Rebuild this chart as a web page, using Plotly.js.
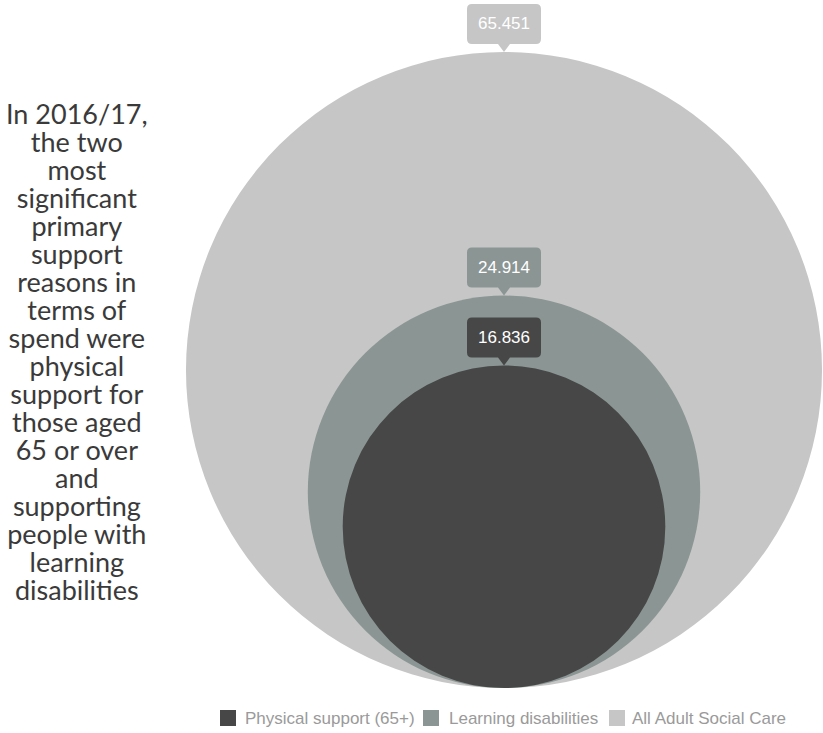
<!DOCTYPE html>
<html>
<head>
<meta charset="utf-8">
<script src="https://cdn.plot.ly/plotly-3.0.1.min.js"></script>
<style>html,body{margin:0;padding:0;background:#fff;}#chart{width:823px;height:733px;}</style>
</head>
<body>
<div id="chart"></div>
<script>
// ---- data ----
const categories = ["All Adult Social Care", "Learning disabilities", "Physical support (65+)"];
const values = [65.451, 24.914, 16.836];
const valueLabels = ["65.451", "24.914", "16.836"];
const colors = ["#c6c6c6", "#8a9594", "#474747"];
const legendOrder = ["Physical support (65+)", "Learning disabilities", "All Adult Social Care"];
const legendColors = ["#474747", "#8a9594", "#c6c6c6"];
const sideText = ["In 2016/17,", "the two", "most", "significant", "primary", "support",
  "reasons in", "terms of", "spend were", "physical", "support for", "those aged",
  "65 or over", "and", "supporting", "people with", "learning", "disabilities"];

// ---- layout constants ----
const W = 823, H = 733;
const S = 39.31;          // pixels per sqrt-unit
const CX = 504;           // pixel x of circle centres
const BASE = 688;         // pixel y of common bottom
const xRange = [(0 - CX) / S, (W - CX) / S];
const yRange = [-(H - BASE) / S, BASE / S];

const shapes = [];
const annotations = [];

const boxPath = "M -32,8 L -6,8 L 0,0 L 6,8 L 32,8 Q 37,8 37,13 L 37,43 Q 37,48 32,48 " +
                "L -32,48 Q -37,48 -37,43 L -37,13 Q -37,8 -32,8 Z";

values.forEach((v, i) => {
  const r = Math.sqrt(v);
  shapes.push({type: "circle", xref: "x", yref: "y", x0: -r, x1: r, y0: 0, y1: 2 * r,
    fillcolor: colors[i], line: {width: 0}, layer: "above"});
  shapes.push({type: "path", xref: "x", yref: "y", xsizemode: "pixel", ysizemode: "pixel",
    xanchor: 0, yanchor: 2 * r, path: boxPath, fillcolor: colors[i], line: {width: 0}, layer: "above"});
  annotations.push({xref: "x", yref: "y", x: 0, y: 2 * r, yshift: 28, showarrow: false,
    text: valueLabels[i], xanchor: "center", yanchor: "middle",
    font: {family: "Liberation Sans, Arial, sans-serif", size: 17, color: "#ffffff"}});
});

// side text: one block, 28px line pitch, 27px glyphs
const PITCH = 28;
annotations.push({xref: "paper", yref: "paper", x: 77 / W, y: 1 - 351 / H, showarrow: false,
  text: sideText.map(t => '<span style="font-size:27px">' + t + '</span>').join("<br>"),
  xanchor: "center", yanchor: "middle", align: "center",
  font: {family: "Lato, sans-serif", size: PITCH / 1.3, color: "#3a3a3a"}});

// legend
const legSquares = [220, 423, 609];
const legText = [243, 447, 630];
legendOrder.forEach((name, i) => {
  shapes.push({type: "rect", xref: "paper", yref: "paper",
    x0: legSquares[i] / W, x1: (legSquares[i] + 16) / W,
    y0: 1 - 726 / H, y1: 1 - 710 / H, fillcolor: legendColors[i], line: {width: 0}});
  annotations.push({xref: "paper", yref: "paper", x: legText[i] / W, y: 1 - 718 / H,
    showarrow: false, text: name, xanchor: "left", yanchor: "middle",
    font: {family: "Liberation Sans, Arial, sans-serif", size: 17, color: "#9a9a9a"}});
});

const layout = {
  width: W, height: H,
  margin: {l: 0, r: 0, t: 0, b: 0, pad: 0},
  paper_bgcolor: "#ffffff", plot_bgcolor: "#ffffff",
  showlegend: false,
  hovermode: false,
  xaxis: {range: xRange, visible: false, fixedrange: true},
  yaxis: {range: yRange, visible: false, fixedrange: true},
  shapes: shapes,
  annotations: annotations
};

const data = [{type: "scatter", x: [], y: [], mode: "markers", showlegend: false, hoverinfo: "skip"}];

Plotly.newPlot("chart", data, layout, {staticPlot: true, displayModeBar: false});
</script>
</body>
</html>
